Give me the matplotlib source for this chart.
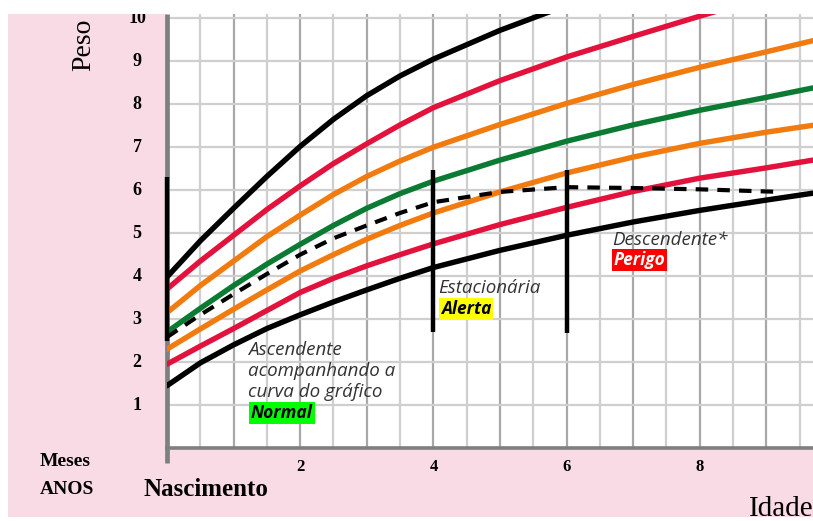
import numpy as np
import matplotlib
matplotlib.use('Agg')
import matplotlib.pyplot as plt
from matplotlib.patches import Rectangle
from matplotlib.transforms import blended_transform_factory

W, H = 813, 521

# ---------- data ----------
age = [0, 0.5, 1, 1.5, 2, 2.5, 3, 3.5, 4, 5, 6, 7, 8, 9, 9.7]
black_top = [3.98, 4.82, 5.58, 6.32, 7.02, 7.65, 8.2, 8.66, 9.05, 9.72, 10.3, 10.8, 11.3, 11.7, 12.0]
red_top = [3.7, 4.35, 4.95, 5.55, 6.1, 6.62, 7.08, 7.52, 7.92, 8.55, 9.1, 9.58, 10.05, 10.5, 10.8]
orange_top = [3.15, 3.78, 4.35, 4.92, 5.42, 5.9, 6.32, 6.68, 7.0, 7.53, 8.02, 8.46, 8.86, 9.22, 9.48]
green_mid = [2.7, 3.25, 3.78, 4.28, 4.74, 5.18, 5.58, 5.92, 6.21, 6.7, 7.14, 7.52, 7.86, 8.16, 8.38]
orange_low = [2.3, 2.77, 3.23, 3.68, 4.12, 4.5, 4.86, 5.18, 5.47, 5.96, 6.4, 6.77, 7.09, 7.35, 7.51]
red_low = [1.95, 2.37, 2.78, 3.2, 3.62, 3.95, 4.24, 4.5, 4.75, 5.2, 5.6, 5.97, 6.28, 6.52, 6.7]
black_low = [1.45, 1.98, 2.4, 2.78, 3.1, 3.4, 3.68, 3.95, 4.2, 4.6, 4.95, 5.26, 5.53, 5.77, 5.93]

child_age = [0, 0.5, 1, 1.5, 2, 2.5, 3, 3.5, 4, 5, 6, 7, 8, 9.2]
child_weight = [2.58, 3.1, 3.58, 4.05, 4.5, 4.88, 5.18, 5.47, 5.72, 5.96, 6.07, 6.05, 6.02, 5.96]

# vertical markers (x, y_bottom, y_top)
markers = [(0, 2.5, 6.3), (4, 2.7, 6.47), (6, 2.67, 6.47)]

x_ticks = [2, 4, 6, 8]
y_ticks = list(range(1, 11))

PINK = '#f9dbe5'
GRID_DARK = '#a8a8a8'
GRID_LIGHT = '#cfcfcf'
SPINE = '#7f7f7f'
CURVES = [
    (black_top, '#000000'),
    (red_top, '#e3123c'),
    (orange_top, '#f27b10'),
    (green_mid, '#0b7a32'),
    (orange_low, '#f27b10'),
    (red_low, '#e3123c'),
    (black_low, '#000000'),
]

SERIF = ['Liberation Serif', 'DejaVu Serif']
SANS = ['Open Sans', 'DejaVu Sans']

fig = plt.figure(figsize=(W / 100, H / 100), dpi=100)
fig.patch.set_facecolor('white')
fig.patches.append(Rectangle((8 / W, 4 / H), 1 - 8 / W, (H - 18) / H,
                             transform=fig.transFigure, facecolor=PINK,
                             edgecolor='none', zorder=-10))

ax = fig.add_axes([167 / W, (H - 448) / H, (W - 167) / W, (448 - 14) / H])
ax.set_facecolor('white')
ax.set_xlim(0, 9.7)
ax.set_ylim(0, 10.1)

# grid
for xv in np.arange(0.5, 10, 1.0):
    ax.axvline(xv, color=GRID_LIGHT, lw=1.6, zorder=0)
for xv in np.arange(1, 10):
    ax.axvline(xv, color=GRID_DARK, lw=1.6, zorder=0)
for yv in y_ticks:
    ax.axhline(yv, color=GRID_LIGHT, lw=1.6, zorder=0)

# reference curves
for vals, col in CURVES:
    ax.plot(age, vals, color=col, lw=3.9, solid_capstyle='round',
            solid_joinstyle='round', zorder=3)

# child curve
ax.plot(child_age, child_weight, color='black', lw=3.0, ls=(0, (3, 2.2)), zorder=4)

for xm, y0, y1 in markers:
    ax.plot([xm, xm], [y0, y1], color='black', lw=3.2, zorder=5,
            solid_capstyle='butt', clip_on=False)

# spines
for s in ['top', 'right']:
    ax.spines[s].set_visible(False)
ax.spines['left'].set_visible(False)
ax.spines['bottom'].set_color(SPINE)
ax.spines['bottom'].set_linewidth(2.6)
ax.plot([0, 0], [-0.35, 10.1], color=SPINE, lw=3.4, zorder=2, clip_on=False,
        solid_capstyle='butt')
ax.set_xticks([])
ax.set_yticks([])

# tick labels
ty = blended_transform_factory(fig.transFigure, ax.transData)
for v in y_ticks:
    fig.text(137 / W, v, str(v), transform=ty, ha='center', va='center',
             family=SERIF, fontweight='bold', fontsize=13)
tx = blended_transform_factory(ax.transData, fig.transFigure)
for v in x_ticks:
    fig.text(v, 1 - 467 / H, str(v), transform=tx, ha='center', va='center',
             family=SERIF, fontweight='bold', fontsize=12)

# axis captions
fig.text(84 / W, 1 - 45 / H, 'Peso', rotation=90, ha='center', va='center',
         family=SERIF, fontsize=20)
fig.text(781 / W, 1 - 509 / H, 'Idade', ha='center', va='center',
         family=SERIF, fontsize=21)
fig.text(65 / W, 1 - 462 / H, 'Meses', ha='center', va='center',
         family=SERIF, fontweight='bold', fontsize=14)
fig.text(67 / W, 1 - 489 / H, 'ANOS', ha='center', va='center',
         family=SERIF, fontweight='bold', fontsize=14)
fig.text(206 / W, 1 - 489 / H, 'Nascimento', ha='center', va='center',
         family=SERIF, fontweight='bold', fontsize=18)

# annotations
note = dict(family=SANS, style='italic', color='#333333', fontsize=13.5,
            ha='left', va='center', zorder=6)
ax.text(1.21, 2.28, 'Ascendente', **note)
ax.text(1.21, 1.79, 'acompanhando a', **note)
ax.text(1.21, 1.30, 'curva do gráfico', **note)
ax.text(4.07, 3.72, 'Estacionária', **note)
ax.text(6.68, 4.84, 'Descendente*', **note)

tag = dict(family=SANS, style='italic', fontweight='bold', fontsize=12.5,
           ha='left', va='center', zorder=6)
ax.text(1.26, 0.81, 'Normal', color='black',
        bbox=dict(facecolor='#00ff00', edgecolor='none', pad=1.2), **tag)
ax.text(4.11, 3.24, 'Alerta', color='black',
        bbox=dict(facecolor='#ffff00', edgecolor='none', pad=1.2), **tag)
ax.text(6.71, 4.38, 'Perigo', color='white',
        bbox=dict(facecolor='#ff0000', edgecolor='none', pad=1.2), **tag)

# white strip at the very top
fig.patches.append(Rectangle((0, 1 - 14 / H), 1, 14 / H, transform=fig.transFigure,
                             facecolor='white', edgecolor='none', zorder=20))

fig.savefig('out.png', dpi=100)
